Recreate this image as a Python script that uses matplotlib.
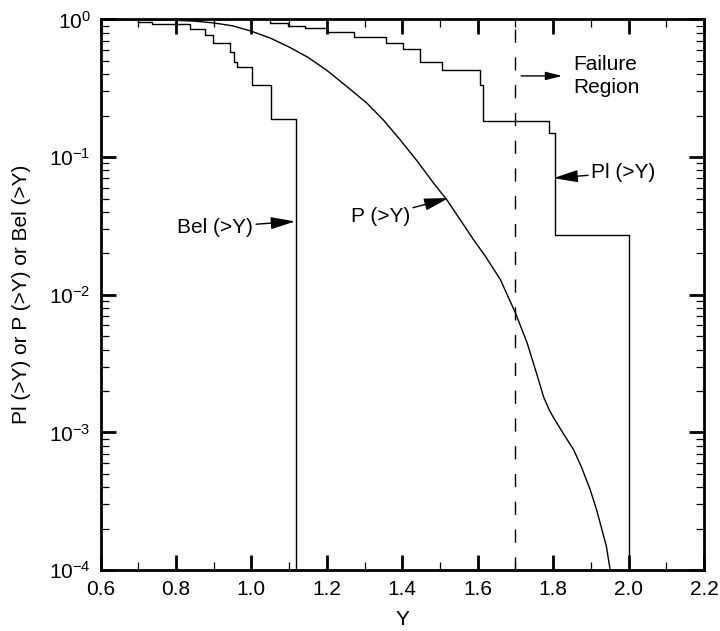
import numpy as np
import matplotlib
matplotlib.use('Agg')
import matplotlib.pyplot as plt

plt.rcParams['font.family'] = ['Liberation Sans', 'DejaVu Sans']
plt.rcParams['mathtext.fontset'] = 'custom'
plt.rcParams['mathtext.rm'] = 'Liberation Sans'
plt.rcParams['mathtext.it'] = 'Liberation Sans:italic'
plt.rcParams['mathtext.bf'] = 'Liberation Sans:bold'

# Bel(>Y): lower bound, step function (value holds from x onwards)
bel_x = [0.60, 0.700, 0.736, 0.837, 0.877, 0.899, 0.942, 0.954, 0.961, 1.002, 1.052, 1.118]
bel_y = [1.0, 0.962, 0.92, 0.846, 0.77, 0.672, 0.584, 0.49, 0.455, 0.335, 0.189, 1e-5]

# Pl(>Y): upper bound, step function
pl_x = [0.60, 1.050, 1.098, 1.142, 1.200, 1.271, 1.357, 1.403, 1.446, 1.505, 1.607, 1.615, 1.788, 1.806, 2.000]
pl_y = [1.0, 0.948, 0.897, 0.872, 0.816, 0.743, 0.672, 0.611, 0.49, 0.43, 0.335, 0.184, 0.15, 0.0271, 1e-5]

# P(>Y): smooth exceedance curve
p_x = [0.60, 0.70, 0.80, 0.85, 0.90, 0.95, 1.00, 1.05, 1.10, 1.15, 1.20, 1.25, 1.306, 1.35,
       1.394, 1.44, 1.483, 1.518, 1.55, 1.589, 1.62, 1.66, 1.70, 1.731, 1.761, 1.775, 1.79, 1.801,
       1.825, 1.854, 1.875, 1.898, 1.915, 1.929, 1.941, 1.951, 1.955]
p_y = [1.0, 0.998, 0.986, 0.973, 0.944, 0.90, 0.822, 0.733, 0.631, 0.531, 0.427, 0.331, 0.247, 0.186,
       0.134, 0.0933, 0.0647, 0.049, 0.0363, 0.0251, 0.0191, 0.0129, 0.00738, 0.00447, 0.00242, 0.00180, 0.00145, 0.00128,
       0.001, 7.5e-4, 5.6e-4, 3.85e-4, 2.75e-4, 1.98e-4, 1.49e-4, 1.01e-4, 9e-5]

failure_y = 1.7

fig = plt.figure(figsize=(7.2, 6.31), dpi=100)
ax = fig.add_axes([0.1396, 0.0967, 0.8382, 0.8724])

ax.step(bel_x, bel_y, where='post', color='k', lw=1.0)
ax.step(pl_x, pl_y, where='post', color='k', lw=1.0)
ax.plot(p_x, p_y, color='k', lw=1.0)
ax.axvline(failure_y, color='k', lw=1.0, linestyle=(0, (9.5, 10.5)))

ax.set_yscale('log')
ax.set_xlim(0.6, 2.2)
ax.set_ylim(1e-4, 1.0)
ax.set_xticks(np.arange(0.6, 2.21, 0.2))
ax.set_xticklabels(['0.6', '0.8', '1.0', '1.2', '1.4', '1.6', '1.8', '2.0', '2.2'])
ax.set_xticks(np.arange(0.7, 2.2, 0.2), minor=True)
ax.yaxis.set_major_locator(matplotlib.ticker.LogLocator(base=10, numticks=10))
ax.yaxis.set_minor_locator(matplotlib.ticker.LogLocator(base=10, subs=np.arange(2, 10), numticks=20))
ax.yaxis.set_minor_formatter(matplotlib.ticker.NullFormatter())

ax.tick_params(which='both', direction='in', top=True, right=True, labelsize=15, pad=7)
ax.tick_params(which='major', length=10.5, width=2.0)
ax.tick_params(which='minor', length=6, width=0.9)
for s in ax.spines.values():
    s.set_linewidth(2.0)

ax.set_xlabel('Y', fontsize=15, labelpad=8)
ax.set_ylabel('Pl (>Y) or P (>Y) or Bel (>Y)', fontsize=15)
ax.yaxis.set_label_coords(-0.115, 0.5)

arrow = dict(arrowstyle='-|>,head_length=1.0,head_width=0.25', color='k', lw=1.0,
             shrinkA=0, shrinkB=0)
ax.annotate('', xy=(1.824, 0.389), xytext=(1.715, 0.389), arrowprops=arrow)
ax.text(1.853, 0.389, 'Failure\nRegion', fontsize=15, ha='left', va='center', linespacing=1.3)

ax.annotate('Pl (>Y)', xy=(1.801, 0.0704), xytext=(1.90, 0.0773), arrowprops=arrow,
            fontsize=15, ha='left', va='center')
ax.annotate('Bel (>Y)', xy=(1.116, 0.0341), xytext=(1.005, 0.031), arrowprops=arrow,
            fontsize=15, ha='right', va='center')
ax.annotate('P (>Y)', xy=(1.5226, 0.0504), xytext=(1.421, 0.037), arrowprops=arrow,
            fontsize=15, ha='right', va='center')

fig.savefig('out.png', dpi=100)
